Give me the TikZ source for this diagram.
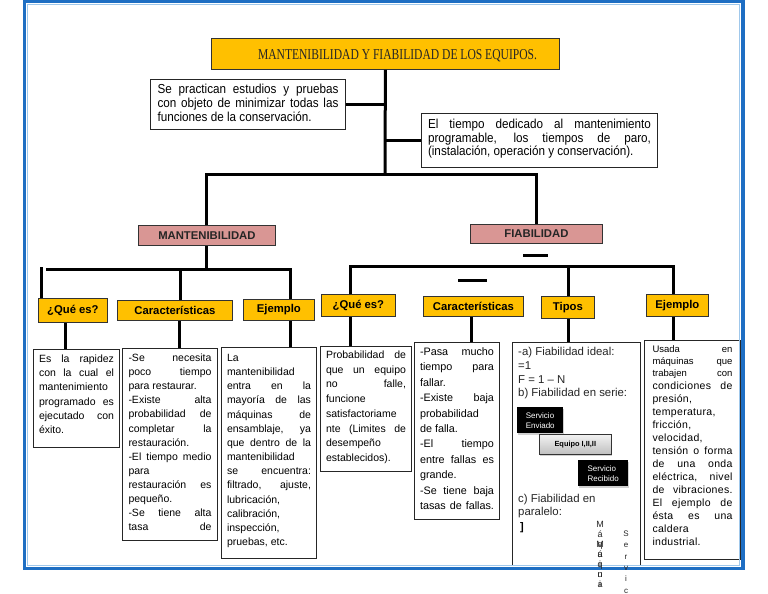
\documentclass[tikz,border=0pt]{standalone}
\usepackage{fontspec}
\usepackage{graphicx}
\setmainfont{Liberation Sans}
\newfontfamily\serifT{Liberation Serif}
\newfontfamily\spacedsans[LetterSpace=3]{Liberation Sans}
\usetikzlibrary{shadows}
\definecolor{gold}{RGB}{255,192,0}
\definecolor{pinkh}{RGB}{217,150,148}
\definecolor{frameblue}{RGB}{30,110,195}
\definecolor{framelight}{RGB}{160,200,235}
\newdimen\sth \sth=8pt
\newcommand\J[1]{\hbox to\hsize{\vrule height\sth depth0pt width0pt\relax#1}}
\newcommand\R[1]{\hbox{\vrule height\sth depth0pt width0pt\relax#1}}
\begin{document}
\begin{tikzpicture}[x=1pt,y=-1pt,
  conn/.style={line width=3pt, draw=black},
  hbox/.style={draw=black!80, line width=0.8pt, fill=gold, inner sep=0pt, anchor=north west, font=\bfseries\fontsize{11.3}{13}\selectfont},
  pbox/.style={hbox, fill=pinkh, text=black!85},
  tbox/.style={draw=black!85, line width=1pt, fill=white, inner ysep=0pt, anchor=north west},
  blk/.style={fill=black, text=white, inner sep=0pt, anchor=north west, align=left, font=\fontsize{8}{10}\selectfont, drop shadow={shadow xshift=1pt, shadow yshift=-2pt, fill=black!30, opacity=0.6}},
  gbox/.style={draw=black!80, line width=0.6pt, top color=white!95!black, bottom color=black!25, inner sep=0pt, anchor=north west, font=\bfseries\fontsize{7.4}{9}\selectfont, drop shadow={shadow xshift=1pt, shadow yshift=-2pt, fill=black!30, opacity=0.6}},
  ftxt/.style={anchor=north west, inner sep=0pt, align=left, text=black!85},
  vtxt/.style={anchor=north, inner sep=0pt, align=center, text=black!85}
]
\useasboundingbox (0,0) rectangle (768,594);

% ---------- title ----------
\node[draw=black!80, line width=0.8pt, fill=gold, minimum width=348pt, minimum height=31pt, anchor=north west, inner sep=0pt] (title) at (211,38) {};
\node[anchor=base, inner sep=0pt, text=black!85] (titletext) at (397.5,60) {\resizebox{279pt}{10pt}{\serifT MANTENIBILIDAD Y FIABILIDAD DE LOS EQUIPOS.}};

% ---------- upper text boxes ----------
\node[tbox, inner xsep=7pt] (b1) at (150,79) {\scalebox{0.9}[1]{\parbox[c][50pt][t]{201pt}{\fontsize{13}{14}\selectfont\sth=9.5pt\vskip4.5pt
\J{Se practican estudios y pruebas}
\J{con objeto de minimizar todas las}
\R{funciones de la conservación.}}}};

\node[tbox, inner xsep=6.5pt] (b2) at (421,113) {\scalebox{0.9}[1]{\parbox[c][54pt][t]{247.8pt}{\fontsize{13}{13.5}\selectfont\sth=9.5pt\vskip5.5pt
\J{El tiempo dedicado al mantenimiento}
\J{programable, los tiempos de paro,}
\R{(instalación, operación y conservación).}}}};

% ---------- second level ----------
\node[pbox, minimum width=137pt, minimum height=20pt] (mant) at (138,225) {MANTENIBILIDAD};
\node[pbox, minimum width=132pt, minimum height=19pt] (fiab) at (470,224) {FIABILIDAD};

% ---------- headings ----------
\node[hbox, minimum width=69pt, minimum height=24pt] (qA) at (38,298) {¿Qué es?};
\node[hbox, minimum width=115pt, minimum height=20pt] (cA) at (117,300) {Características};
\node[hbox, minimum width=71pt, minimum height=21pt] (eA) at (243,299) {Ejemplo};
\node[hbox, minimum width=74pt, minimum height=22pt] (qB) at (321,294) {¿Qué es?};
\node[hbox, minimum width=100pt, minimum height=20pt] (cB) at (423,296) {Características};
\node[hbox, minimum width=53pt, minimum height=22pt] (tB) at (541,296) {Tipos};
\node[hbox, minimum width=62pt, minimum height=22pt] (eB) at (646,294) {Ejemplo};

% ---------- bottom text boxes ----------
\node[tbox, inner xsep=5.5pt] (bA) at (33,349) {\parbox[c][98pt][t]{75pt}{\fontsize{10.5}{14.2}\selectfont\sth=8pt\vskip5pt
\J{Es la rapidez}
\J{con la cual el}
\R{mantenimiento}
\J{programado es}
\J{ejecutado con}
\R{éxito.}}};

\node[tbox, inner xsep=6pt] (bB) at (122,348) {\parbox[c][192pt][t]{83pt}{\fontsize{10.5}{14.1}\selectfont\sth=8pt\vskip5pt
\J{-Se necesita}
\J{poco tiempo}
\R{para restaurar.}
\J{-Existe alta}
\J{probabilidad de}
\J{completar la}
\R{restauración.}
\J{-El tiempo medio}
\R{para}
\J{restauración es}
\R{pequeño.}
\J{-Se tiene alta}
\J{tasa de}}};

\node[tbox, inner xsep=5.5pt] (bC) at (221,347) {\parbox[c][211pt][t]{84pt}{\fontsize{10.5}{14.15}\selectfont\sth=8pt\vskip6pt
\R{La}
\R{mantenibilidad}
\J{entra en la}
\J{mayoría de las}
\J{máquinas de}
\J{ensamblaje, ya}
\J{que dentro de la}
\R{mantenibilidad}
\J{se encuentra:}
\J{filtrado, ajuste,}
\R{lubricación,}
\R{calibración,}
\R{inspección,}
\R{pruebas, etc.}}};

\node[tbox, inner xsep=5.5pt] (bD) at (320,346) {\parbox[c][125pt][t]{80pt}{\fontsize{10.5}{14.7}\selectfont\sth=8pt\vskip4pt
\J{Probabilidad de}
\J{que un equipo}
\J{no falle,}
\R{funcione}
\R{satisfactoriame}
\J{nte (Limites de}
\R{desempeño}
\R{establecidos).}}};

\node[tbox, inner xsep=5.5pt] (bE) at (414,342) {\parbox[c][177pt][t]{74pt}{\fontsize{10.8}{15.4}\selectfont\sth=8pt\vskip5pt
\J{-Pasa mucho}
\J{tiempo para}
\R{fallar.}
\J{-Existe baja}
\R{probabilidad}
\R{de falla.}
\J{-El tiempo}
\J{entre fallas es}
\R{grande.}
\J{-Se tiene baja}
\J{tasas de fallas.}}};

\node[tbox, inner sep=0pt, minimum width=128pt, minimum height=223pt] (bF) at (512,342) {};
\node[ftxt, font=\fontsize{11.4}{13.6}\selectfont] (fa) at (518,347.5) {-a) Fiabilidad ideal:\\=1\\F = 1 – N\\b) Fiabilidad en serie:};
\node[blk, minimum width=46pt, minimum height=26pt] (se) at (517,407) {Servicio\\Enviado};
\node[gbox, minimum width=72pt, minimum height=20pt] (eq) at (539,434) {Equipo I,II,II};
\node[blk, minimum width=50pt, minimum height=26pt] (sr) at (578,460) {Servicio\\Recibido};
\node[ftxt, font=\fontsize{11.4}{13}\selectfont] (fc) at (518,494.5) {c) Fiabilidad en\\paralelo:};
\node[inner sep=0pt, font=\bfseries\fontsize{11}{12}\selectfont] (brk) at (522,528) {]};

\node[tbox, inner xsep=8pt] (bG) at (644,340) {\parbox[c][219pt][t]{80pt}{\fontsize{9.5}{12}\selectfont\sth=8pt\vskip4pt
\J{Usada en}
\J{máquinas que}
\J{trabajen con}
\spacedsans\fontsize{10.5}{13}\selectfont
\J{condiciones de}
\R{presión,}
\R{temperatura,}
\R{fricción,}
\R{velocidad,}
\J{tensión o forma}
\J{de una onda}
\J{eléctrica, nivel}
\J{de vibraciones.}
\J{El ejemplo de}
\J{ésta es una}
\R{caldera}
\R{industrial.}}};

% ---------- connectors ----------
\coordinate (hub) at (385,174);
\draw[conn] (title.south) -- (hub);
\draw[conn] (b1.east) -- (b1.east -| hub);
\draw[conn] (b2.west) -- (b2.west -| hub);
\draw[conn] (mant.north) |- (hub) -| (fiab.north);

\coordinate (mhL) at (46,269);
\coordinate (mhR) at (290,269);
\coordinate (mC) at (180,269);
\coordinate (mQ) at (41,267);
\draw[conn] (mant.south) -- (mant.south |- mhL);
\draw[conn] (mhL) -- (mhR) -- (mhR |- eA.north);
\draw[conn] (mC) -- (mC |- cA.north);
\draw[conn] (mQ) -- (mQ |- qA.north);

\coordinate (xq) at (65,0);
\coordinate (xc) at (179,0);
\draw[conn] (qA.south -| xq) -- (bA.north -| xq);
\draw[conn] (cA.south -| xc) -- (bB.north -| xc);
\draw[conn] (eA.south -| mhR) -- (bC.north -| mhR);

\coordinate (fhL) at (350,266);
\coordinate (fhR) at (673,266);
\coordinate (fT) at (568,266);
\draw[conn] (fhL |- qB.north) -- (fhL) -- (fhR) -- (fhR |- eB.north);
\draw[conn] (fT) -- (fT |- tB.north);
\coordinate (d1a) at (523,255);
\coordinate (d1b) at (548,255);
\coordinate (d2a) at (458,280);
\coordinate (d2b) at (487,280);
\draw[conn] (d1a) -- (d1b);
\draw[conn] (d2a) -- (d2b);

\coordinate (xcb) at (471,0);
\draw[conn] (qB.south -| fhL) -- (bD.north -| fhL);
\draw[conn] (cB.south -| xcb) -- (bE.north -| xcb);
\draw[conn] (tB.south -| fT) -- (bF.north -| fT);
\draw[conn] (eB.south -| fhR) -- (bG.north -| fhR);

% ---------- frame ----------
\draw[frameblue, line width=3.5pt] (24.5,1.5) rectangle (743,568.5);
\draw[framelight, line width=1.2pt] (27.8,4.6) rectangle (739.6,565.4);

% ---------- stray vertical letters ----------
\node[vtxt, font=\fontsize{9}{10}\selectfont] (v1) at (600,521.5) {M\\á\\q\\u\\i\\n\\a};
\node[vtxt, font=\fontsize{9}{10}\selectfont] (v2) at (600,541.5) {M\\á\\q\\u\\i};
\node[vtxt, font=\fontsize{8}{11.4}\selectfont] (v3) at (626,530.5) {S\\e\\r\\v\\i\\c};
\end{tikzpicture}
\end{document}
